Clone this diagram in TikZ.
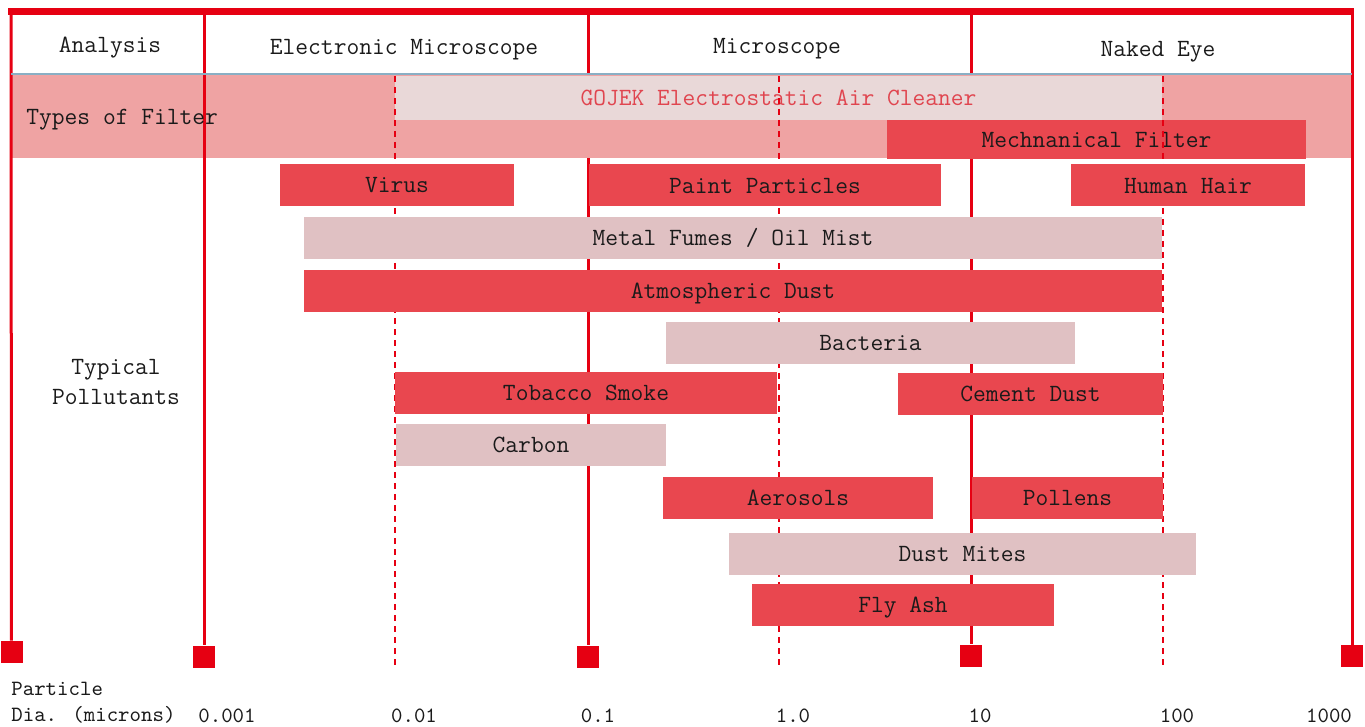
\documentclass[tikz,border=0pt]{standalone}
\usepackage{fontspec}
\usetikzlibrary{positioning}
\definecolor{lineRed}{HTML}{E60012}
\definecolor{barRed}{HTML}{E9474F}
\definecolor{barPale}{HTML}{E0C1C3}
\definecolor{filterPink}{HTML}{EFA3A3}
\definecolor{cleanerPale}{HTML}{E9D8D8}
\definecolor{cleanerText}{HTML}{E0454F}
\definecolor{headBlue}{HTML}{8AAFC4}
\definecolor{txtGray}{HTML}{1A1A1A}
\tikzset{
  sizeline/.style={draw=lineRed, line width=1.5pt},
  sizedash/.style={draw=lineRed, line width=1pt, dash pattern=on 3pt off 2.5pt},
  endmark/.style={fill=lineRed, minimum size=11pt, inner sep=0pt},
  hilab/.style={text=txtGray, inner sep=0pt, font=\fontsize{12.4}{15}\selectfont\ttfamily},
  lolab/.style={text=txtGray, inner sep=0pt, font=\fontsize{10.9}{13}\selectfont\ttfamily},
  capmid/.style={text height=7.6pt, text depth=0pt},
  redbar/.style={hilab, capmid, fill=barRed, minimum height=21pt},
  palebar/.style={hilab, capmid, fill=barPale, minimum height=21pt},
}

\begin{document}
\begin{tikzpicture}[x=0.5pt, y=-0.5pt]
\useasboundingbox (0,0) rectangle (1365,727);
% marks at the foot of the solid lines
\node[endmark] (sq1) at (11.5,652) {};
\node[endmark] (sq2) at (204,656.5) {};
\node[endmark] (sq3) at (588,656.5) {};
\node[endmark] (sq4) at (971,655.5) {};
\node[endmark] (sq5) at (1352,656) {};
\coordinate (top1) at (11,15);
\coordinate (top2) at (204,15);
\coordinate (top3) at (588,15);
\coordinate (top4) at (971,15);
\coordinate (top5) at (1352,15);
\draw[sizeline] (top3) -- (sq3);
\draw[sizeline] (top4) -- (sq4);

% filter row
\fill[filterPink] (11,75) rectangle (1352,158);
\node[hilab, capmid, fill=cleanerPale, text=cleanerText, minimum width=383.5pt, minimum height=22pt] (cleaner) at (778.5,98) {GOJEK Electrostatic Air Cleaner};
\node[redbar, minimum width=209.5pt, minimum height=19.5pt] (mech) at (1096.5,139.5) {Mechnanical Filter};

\draw[sizeline] (top1) -- (sq1);
\draw[sizeline] (top2) -- (sq2);
\draw[sizeline] (top5) -- (sq5);
\coordinate (d1a) at (395,76);
\coordinate (d1b) at (395,666);
\coordinate (d2a) at (779,76);
\coordinate (d2b) at (779,666);
\coordinate (d3a) at (1163,76);
\coordinate (d3b) at (1163,666);
\draw[sizedash] (d1a) -- (d1b);
\draw[sizedash] (d2a) -- (d2b);
\draw[sizedash] (d3a) -- (d3b);

\coordinate (hl) at (11,74.5);
\coordinate (hr) at (1352,74.5);
\draw[headBlue, line width=1pt] (hl) -- (hr);
\coordinate (tl) at (8,11.5);
\coordinate (tr) at (1354,11.5);
\draw[lineRed, line width=3.5pt] (tl) -- (tr);

% pollutants
\node[redbar, minimum width=117pt] (virus) at (397,185) {Virus};
\node[redbar, minimum width=176pt] (paint) at (765,185.5) {Paint Particles};
\node[redbar, minimum width=117pt] (hair) at (1188,185.5) {Human Hair};
\node[palebar, minimum width=429pt] (fumes) at (733,238) {Metal Fumes / Oil Mist};
\node[redbar, minimum width=429pt] (atmos) at (733,291) {Atmospheric Dust};
\node[palebar, minimum width=204.5pt] (bacteria) at (870.5,343) {Bacteria};
\node[redbar, minimum width=191pt] (tobacco) at (586,393) {Tobacco Smoke};
\node[redbar, minimum width=132.5pt] (cement) at (1030.5,394) {Cement Dust};
\node[palebar, minimum width=135pt] (carbon) at (531,445) {Carbon};
\node[redbar, minimum width=135pt] (aerosols) at (798,497.5) {Aerosols};
\node[redbar, minimum width=95.5pt] (pollens) at (1067.5,497.5) {Pollens};
\node[palebar, minimum width=233.5pt] (mites) at (962.5,553.5) {Dust Mites};
\node[redbar, minimum width=151pt] (flyash) at (903,604.5) {Fly Ash};

% headings
\node[hilab, capmid] (analysis) at (110,45) {Analysis};
\node[hilab, capmid] (electron) at (404,47) {Electronic Microscope};
\node[hilab, capmid] (micro) at (777,46) {Microscope};
\node[hilab, capmid] (naked) at (1158,49) {Naked Eye};
\node[hilab, capmid, anchor=west] (filters) at (26,117) {Types of Filter};
\node[hilab, align=center] (typical) at (116,382) {Typical\\Pollutants};

% size axis
\node[lolab] (particle) at (11,689) [anchor=west] {Particle};
\node[lolab, anchor=west] (dia) at (11,715) {Dia. (microns)};
\node[lolab] (t1) at (227,716) {0.001};
\node[lolab] (t2) at (414,716) {0.01};
\node[lolab] (t3) at (598,716) {0.1};
\node[lolab] (t4) at (793,716) {1.0};
\node[lolab] (t5) at (980,716) {10};
\node[lolab] (t6) at (1177,716) {100};
\node[lolab] (t7) at (1329,716) {1000};
\end{tikzpicture}
\end{document}
